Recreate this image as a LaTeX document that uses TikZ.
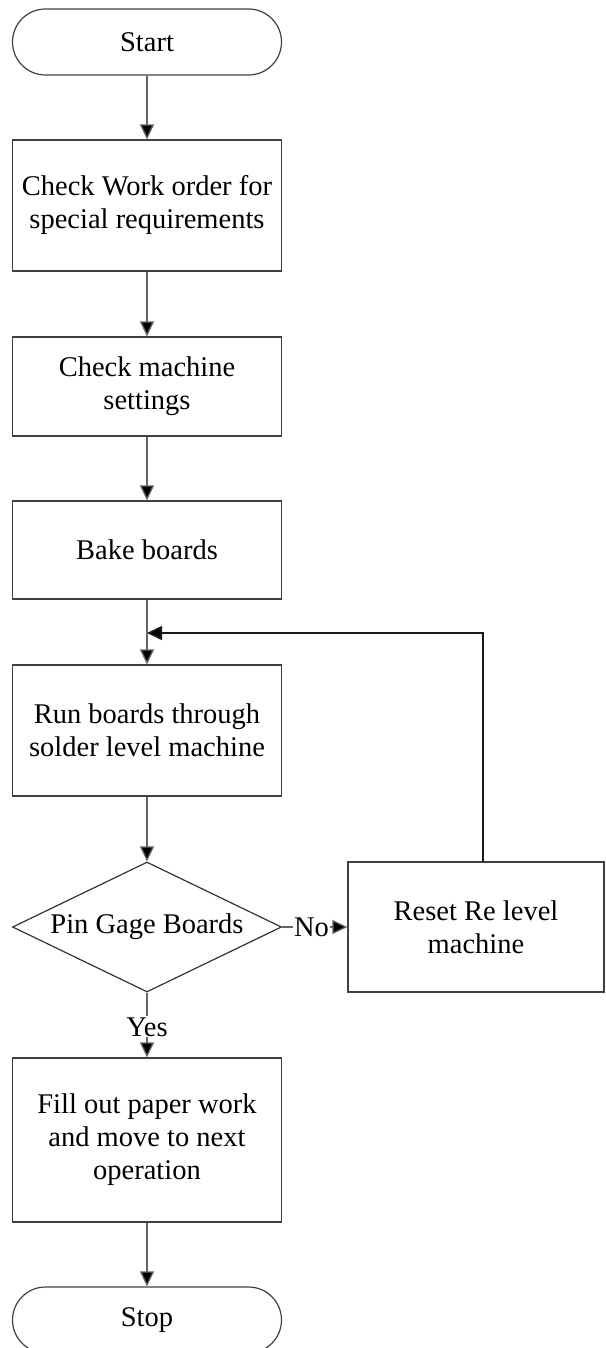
\documentclass[tikz,border=0pt]{standalone}
\usepackage{fontspec}
\setmainfont{Liberation Serif}
\usetikzlibrary{arrows.meta,shapes.geometric}
\begin{document}
\begin{tikzpicture}[x=1pt,y=-1pt,
  every node/.style={font=\fontsize{28.5}{33}\selectfont, align=center},
  term/.style={draw=black!75, line width=1.2pt, rounded corners=33pt, minimum width=269pt, minimum height=66pt, inner sep=0pt},
  proc/.style={draw=black!75, line width=1.2pt, minimum width=269pt, inner sep=0pt},
  dec/.style={draw=black!80, line width=1.2pt, diamond, aspect=2.07, minimum width=269pt, minimum height=130pt, inner sep=0pt},
  conn/.style={draw=black!60, line width=1.3pt, -{Triangle[length=15pt,width=14pt,fill=black]}},
  fb/.style={draw=black!90, line width=1.6pt, -{Triangle[length=15pt,width=14pt,fill=black]}},
  lbl/.style={fill=white, inner sep=1pt}
]
\useasboundingbox (0,0) rectangle (605,1348);
\node[term] (start) at (147,42) {Start};
\node[proc, minimum height=131pt] (wo) at (147,205.5) {Check Work order for\\special requirements};
\node[proc, minimum height=99pt] (ms) at (147,386.5) {Check machine\\settings};
\node[proc, minimum height=98pt] (bake) at (147,550) {Bake boards};
\node[proc, minimum height=131pt] (run) at (147,730.5) {Run boards through\\solder level machine};
\node[dec] (pin) at (147,927) {Pin Gage Boards};
\node[proc, minimum width=256pt, minimum height=130pt] (reset) at (476,927) {Reset Re level\\machine};
\node[proc, minimum height=164pt] (fill) at (147,1140) {Fill out paper work\\and move to next\\operation};
\node[term] (stop) at (147,1320) {Stop};
\coordinate (join) at (147,633);
\coordinate (rtop) at (483,862);
\coordinate (rcorner) at (483,633);

\draw[conn] (start) -- (wo);
\draw[conn] (wo) -- (ms);
\draw[conn] (ms) -- (bake);
\draw[conn] (bake) -- (run);
\draw[conn] (run) -- (pin);
\draw[conn] (pin.east) -- node[lbl, pos=0.45] (no) {No} (reset.west);
\draw[conn] (pin.south) -- node[lbl, pos=0.53] (yes) {Yes} (fill.north);
\draw[conn] (fill) -- (stop);
\draw[fb] (rtop) -- (rcorner) -- (join);
\end{tikzpicture}
\end{document}
